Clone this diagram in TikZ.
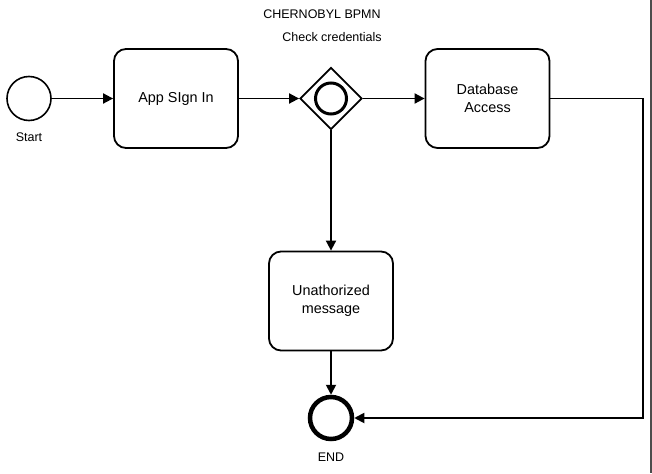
\documentclass[tikz,border=0pt]{standalone}
\usepackage{fontspec}
\setmainfont{Liberation Sans}
\usetikzlibrary{shapes.geometric,arrows.meta}

\begin{document}
\begin{tikzpicture}[x=1pt,y=-1pt,
        task/.style={draw, line width=1.8pt, rounded corners=12pt, minimum width=124pt, minimum height=99pt,
            align=center, font=\fontsize{14.4}{18.5}\selectfont},
        event/.style={circle, draw, line width=1.6pt, minimum size=44pt, inner sep=0pt},
        endevent/.style={circle, draw, line width=4.5pt, minimum size=42pt, inner sep=0pt},
        label/.style={font=\fontsize{12.5}{14}\selectfont},
        flow/.style={draw, line width=1.8pt, -{Triangle[length=10pt,width=10pt]}}
    ]
    \useasboundingbox (0,0) rectangle (652,473);
    \fill[black!70] (650,0) rectangle (652,473);

    \node[label] (title) at (322,14) {CHERNOBYL BPMN};
    \node[label] (check) at (332,37) {Check credentials};

    \node[event] (start) at (29,98.5) {};
    \node[label] (startlbl) at (29,137) {Start};

    \node[task] (signin) at (176,98.5) {App SIgn In};

    \node[diamond, draw, line width=1.8pt, minimum width=62pt, minimum height=62pt, inner sep=0pt] (gate) at (331,98.5) {};
    \node[circle, draw, line width=3pt, minimum size=31pt, inner sep=0pt] (gatering) at (331,98.5) {};

    \node[task] (db) at (487.5,98.5) {Database\\Access};
    \node[task] (unauth) at (331,301) {Unathorized\\message};

    \node[endevent] (end) at (331,418) {};
    \node[label] (endlbl) at (331,457) {END};

    \coordinate (turn) at (643,98.5);

    \draw[flow] (start) -- (signin);
    \draw[flow] (signin) -- (gate);
    \draw[flow] (gate) -- (db);
    \draw[flow] (gate) -- (unauth);
    \draw[flow] (unauth) -- (end);
    \draw[flow] (db) -- (turn) |- (end);
\end{tikzpicture}
\end{document}
